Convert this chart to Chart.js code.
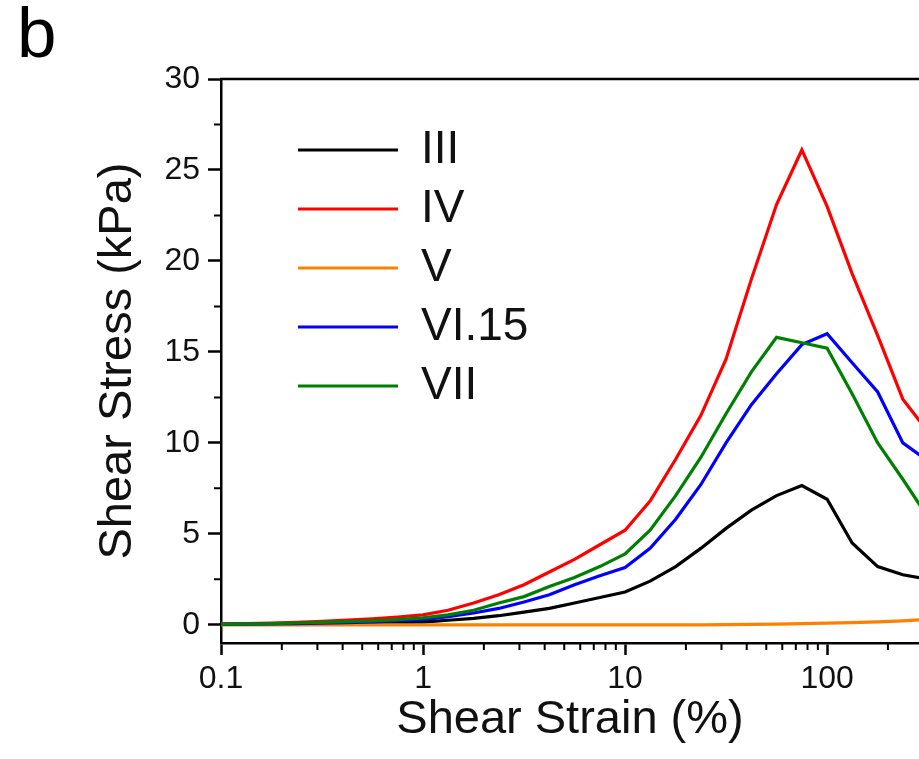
<!DOCTYPE html>
<html>
<head>
<meta charset="utf-8">
<script src="https://cdn.jsdelivr.net/npm/chart.js@4.4.0/dist/chart.umd.min.js"></script>
<style>
html, body { margin: 0; padding: 0; background: #fff; overflow: hidden; }
#wrap { width: 919px; height: 759px; }
</style>
</head>
<body>
<div id="wrap"><canvas id="js--chart"></canvas></div>
<script>
// shear strain (%) of the sweep points
const strain = [0.1, 0.133, 0.178, 0.237, 0.316, 0.422, 0.562, 0.75, 1,
    1.33, 1.78, 2.37, 3.16, 4.22, 5.62, 7.5, 10,
    13.3, 17.8, 23.7, 31.6, 42.2, 56.2, 75, 100,
    133, 178, 237, 316];

// shear stress (kPa)
const stressIII = [0.02, 0.03, 0.04, 0.05, 0.06, 0.08, 0.1, 0.12, 0.15,
    0.25, 0.35, 0.5, 0.7, 0.9, 1.2, 1.5, 1.8,
    2.4, 3.2, 4.2, 5.3, 6.3, 7.1, 7.65, 6.9,
    4.5, 3.2, 2.75, 2.5];
const stressIV = [0.05, 0.07, 0.1, 0.14, 0.19, 0.26, 0.33, 0.43, 0.55,
    0.8, 1.2, 1.65, 2.2, 2.9, 3.6, 4.4, 5.2,
    6.8, 9.1, 11.5, 14.6, 19.0, 23.1, 26.1, 23.0,
    19.3, 15.9, 12.4, 10.6];
const stressV = [0, 0, 0, 0, 0, 0, 0, 0, 0,
    0, 0, 0, 0, 0, 0, 0, 0,
    0, 0, 0, 0.01, 0.02, 0.04, 0.06, 0.09,
    0.12, 0.16, 0.22, 0.3];
const stressVI15 = [0.03, 0.04, 0.05, 0.07, 0.09, 0.12, 0.16, 0.21, 0.28,
    0.45, 0.65, 0.9, 1.25, 1.65, 2.2, 2.7, 3.15,
    4.2, 5.8, 7.7, 10.0, 12.1, 13.8, 15.4, 16.0,
    14.4, 12.8, 10.0, 9.0];
const stressVII = [0.04, 0.05, 0.07, 0.1, 0.13, 0.17, 0.22, 0.29, 0.38,
    0.55, 0.8, 1.2, 1.55, 2.1, 2.6, 3.2, 3.9,
    5.2, 7.1, 9.2, 11.6, 13.9, 15.8, 15.5, 15.2,
    12.7, 10.0, 8.0, 5.9];

const seriesNames = ["III", "IV", "V", "VI.15", "VII"];
const seriesValues = [stressIII, stressIV, stressV, stressVI15, stressVII];
const seriesColors = ["#000000", "#ff0000", "#ff8000", "#0000ff", "#008000"];

const xTickValues = [0.1, 1, 10, 100, 1000];
const yTickValues = [0, 5, 10, 15, 20, 25, 30];
const xMin = 0.1, xMax = 285;
const yMin = -1, yMax = 30;

Chart.defaults.font.family = "'Liberation Sans', Arial, sans-serif";
Chart.defaults.color = "#111";

// small ticks between the labelled ones + the top frame line
const frameAndMinorTicks = {
    id: "frameAndMinorTicks",
    afterDraw(chart) {
        const ctx = chart.ctx;
        const area = chart.chartArea;
        const xs = chart.scales.x;
        const ys = chart.scales.y;
        ctx.save();
        ctx.strokeStyle = "#000";
        ctx.lineWidth = 2;
        ctx.beginPath();
        for (let d = 0.1; d < xMax; d *= 10) {
            for (let m = 2; m < 10; m++) {
                const v = d * m;
                if (v > xMax) break;
                const px = xs.getPixelForValue(v);
                ctx.moveTo(px, area.bottom);
                ctx.lineTo(px, area.bottom + 7);
            }
        }
        for (let v = 2.5; v < yMax; v += 5) {
            const py = ys.getPixelForValue(v);
            ctx.moveTo(area.left, py);
            ctx.lineTo(area.left - 7, py);
        }
        ctx.stroke();
        ctx.lineWidth = 2.5;
        ctx.beginPath();
        ctx.moveTo(area.left - 1, area.top);
        ctx.lineTo(area.right, area.top);
        ctx.stroke();
        ctx.restore();
    }
};

// nudge the legend into the upper left of the plot
const legendSpot = {
    id: "legendSpot",
    afterLayout(chart) {
        chart.legend.left = chart.chartArea.left + 64;
        chart.legend.top = chart.chartArea.top + 35;
    }
};

const datasets = seriesNames.map((name, i) => ({
    label: name,
    data: strain.map((s, j) => ({x: s, y: seriesValues[i][j]})),
    borderColor: seriesColors[i],
    backgroundColor: seriesColors[i],
    borderWidth: 3.2,
    pointRadius: 0,
    tension: 0,
    order: seriesNames.length - 1 - i
}));

const config = {
    type: "line",
    data: {datasets: datasets},
    options: {
        responsive: true,
        maintainAspectRatio: false,
        animation: false,
        layout: {padding: {left: 17, top: 0, right: 0, bottom: 0}},
        plugins: {
            title: {
                display: true,
                text: "b",
                align: "start",
                color: "#000",
                font: {size: 71, weight: "normal", lineHeight: 1},
                padding: {top: 2, bottom: 6}
            },
            legend: {
                position: "chartArea",
                align: "start",
                labels: {
                    usePointStyle: true,
                    pointStyle: "line",
                    pointStyleWidth: 100,
                    padding: 13,
                    color: "#111",
                    font: {size: 46},
                    sort: (a, b) => a.datasetIndex - b.datasetIndex
                }
            },
            tooltip: {enabled: false}
        },
        scales: {
            x: {
                type: "logarithmic",
                min: xMin,
                max: xMax,
                afterBuildTicks: s => {
                    s.ticks = xTickValues.filter(v => v >= xMin && v <= xMax).map(v => ({value: v}));
                },
                afterFit: s => { s.height = 116; },
                ticks: {
                    callback: v => String(v),
                    font: {size: 32},
                    padding: 5,
                    maxRotation: 0,
                    autoSkip: false
                },
                grid: {drawOnChartArea: false, tickLength: 12, tickWidth: 2.5, tickColor: "#000"},
                border: {color: "#000", width: 2.5},
                title: {
                    display: true,
                    text: "Shear Strain (%)",
                    font: {size: 47},
                    padding: {top: 0, bottom: 11}
                }
            },
            y: {
                type: "linear",
                min: yMin,
                max: yMax,
                afterBuildTicks: s => {
                    s.ticks = yTickValues.map(v => ({value: v}));
                },
                afterFit: s => { s.width = 204; },
                ticks: {font: {size: 32}, padding: 8},
                grid: {drawOnChartArea: false, tickLength: 13, tickWidth: 2.5, tickColor: "#000"},
                border: {color: "#000", width: 2.5},
                title: {
                    display: true,
                    text: "Shear Stress (kPa)",
                    font: {size: 47},
                    padding: {top: 73, bottom: 0}
                }
            }
        }
    },
    plugins: [frameAndMinorTicks, legendSpot]
};

new Chart(document.getElementById("js--chart"), config);
</script>
</body>
</html>
